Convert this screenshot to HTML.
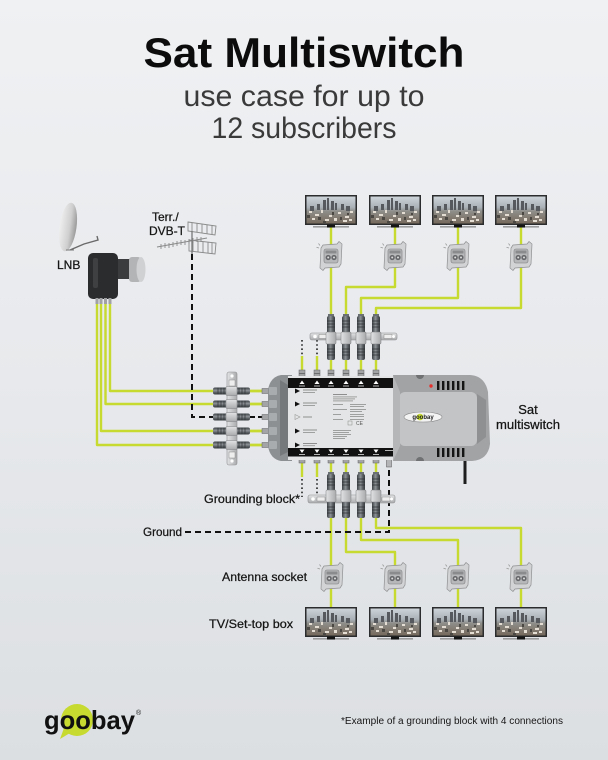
<!DOCTYPE html>
<html><head><meta charset="utf-8"><style>
html,body{margin:0;padding:0;width:608px;height:760px;overflow:hidden;background:#e8eaed}
svg{display:block}
text{font-family:"Liberation Sans",sans-serif}
</style></head><body>
<svg width="608" height="760" viewBox="0 0 608 760" xmlns="http://www.w3.org/2000/svg">
<defs>
<linearGradient id="bg" x1="0" y1="0" x2="0" y2="1">
<stop offset="0" stop-color="#eff1f3"/><stop offset="0.5" stop-color="#e7e9ec"/><stop offset="1" stop-color="#dcdfe2"/></linearGradient>
<linearGradient id="sky" x1="0" y1="0" x2="0" y2="1">
<stop offset="0" stop-color="#cdd4da"/><stop offset="0.4" stop-color="#aab2b8"/><stop offset="0.55" stop-color="#8e8d88"/><stop offset="1" stop-color="#76695c"/></linearGradient>
<linearGradient id="cylV" x1="0" y1="0" x2="1" y2="0">
<stop offset="0" stop-color="#3d4246"/><stop offset="0.45" stop-color="#8e9397"/><stop offset="0.7" stop-color="#5b6064"/><stop offset="1" stop-color="#383c3f"/></linearGradient>
<linearGradient id="cylH" x1="0" y1="0" x2="0" y2="1">
<stop offset="0" stop-color="#3d4246"/><stop offset="0.45" stop-color="#8e9397"/><stop offset="0.7" stop-color="#5b6064"/><stop offset="1" stop-color="#383c3f"/></linearGradient>
<linearGradient id="metal" x1="0" y1="0" x2="0" y2="1">
<stop offset="0" stop-color="#e2e3e4"/><stop offset="1" stop-color="#a9abad"/></linearGradient>
<linearGradient id="metalH" x1="0" y1="0" x2="1" y2="0">
<stop offset="0" stop-color="#e2e3e4"/><stop offset="1" stop-color="#a9abad"/></linearGradient>
<linearGradient id="dish" x1="0" y1="0" x2="1" y2="0">
<stop offset="0" stop-color="#eeeeee"/><stop offset="0.6" stop-color="#cfcfcf"/><stop offset="1" stop-color="#999"/></linearGradient>

<g id="tv">
<rect x="0" y="0" width="52" height="30" fill="#2b2c2d"/>
<rect x="1.5" y="1.5" width="49" height="27" fill="url(#sky)"/>
<g fill="#565a5e">
<rect x="18" y="5" width="3" height="10"/><rect x="22" y="3" width="2" height="12"/><rect x="26" y="6" width="3" height="9"/><rect x="30" y="8" width="2" height="7"/><rect x="12" y="9" width="3" height="6"/><rect x="36" y="9" width="3" height="6"/><rect x="41" y="11" width="4" height="5"/><rect x="5" y="11" width="4" height="5"/></g>
<g fill="#e3ddd3">
<rect x="4" y="16" width="3" height="2"/><rect x="10" y="19" width="4" height="2"/><rect x="16" y="15" width="2" height="3"/><rect x="24" y="20" width="3" height="2"/><rect x="33" y="17" width="3" height="2"/><rect x="40" y="21" width="4" height="2"/><rect x="45" y="16" width="3" height="2"/><rect x="7" y="23" width="3" height="2"/><rect x="20" y="24" width="4" height="2"/><rect x="29" y="23" width="3" height="3"/><rect x="38" y="25" width="4" height="2"/><rect x="44" y="24" width="3" height="2"/></g>
<g fill="#4b4742">
<rect x="2" y="20" width="3" height="3"/><rect x="13" y="22" width="3" height="3"/><rect x="27" y="17" width="2" height="3"/><rect x="35" y="22" width="2" height="3"/><rect x="42" y="18" width="2" height="2"/><rect x="18" y="26" width="3" height="2"/></g>
<rect x="8" y="31" width="36" height="1.6" fill="#9a9c9e"/>
<rect x="22" y="29.5" width="8" height="3" fill="#141414"/>
</g>

<g id="sk">
<path d="M-8 -11 L6 -12 L8 -14.5 L11 -12 L10 8 L8 11 L-6 12 L-8 14.5 L-11 12 L-10 -8 Z" fill="#d2d3d4" stroke="#8e9091" stroke-width="0.7"/>
<rect x="-7" y="-7" width="14" height="14" rx="2" fill="#b7b8b9" stroke="#7b7c7e" stroke-width="0.6"/>
<rect x="-5.5" y="-5.5" width="11" height="3" fill="#8a8b8d"/>
<circle cx="-2.8" cy="1.5" r="2.6" fill="#66676a"/><circle cx="3" cy="1.5" r="2.6" fill="#66676a"/>
<circle cx="-2.8" cy="1.5" r="1" fill="#dcdcdc"/><circle cx="3" cy="1.5" r="1" fill="#dcdcdc"/>
<path d="M-12 -8 l-2.5 -0.8 M-11 -10.5 l-1.5 -2" stroke="#9a9a9a" stroke-width="0.8"/>
</g>

<g id="vc">
<rect x="-3" y="-2" width="6" height="3" fill="#6b7074"/>
<rect x="-4" y="0" width="8" height="44" rx="2" fill="url(#cylV)"/>
<path d="M-4 5h8M-4 8h8M-4 11h8M-4 33h8M-4 36h8M-4 39h8" stroke="#2e3235" stroke-width="0.7"/>
<rect x="-5" y="16" width="10" height="12" rx="1" fill="url(#metalH)" stroke="#7d7f81" stroke-width="0.5"/>
</g>

<g id="hc">
<rect x="0" y="-3.5" width="37" height="7" rx="2" fill="url(#cylH)"/>
<path d="M5 -3.5v7M8 -3.5v7M11 -3.5v7M26 -3.5v7M29 -3.5v7M32 -3.5v7" stroke="#2e3235" stroke-width="0.7"/>
<rect x="13" y="-4.5" width="11" height="9" rx="1" fill="url(#metal)" stroke="#7d7f81" stroke-width="0.5"/>
</g>

<g id="fc">
<rect x="-3" y="0" width="6" height="8" fill="#a2a4a6" stroke="#5f6163" stroke-width="0.5"/>
<rect x="-3" y="3" width="6" height="1" fill="#6b6d6f"/>
</g>
</defs>

<rect x="0" y="0" width="608" height="760" fill="url(#bg)"/>

<!-- Title -->
<text x="304" y="67" text-anchor="middle" font-size="42" font-weight="700" fill="#0c0c0c" textLength="321" lengthAdjust="spacingAndGlyphs">Sat Multiswitch</text>
<text x="304" y="106" text-anchor="middle" font-size="30" fill="#3a3a3a" textLength="241" lengthAdjust="spacingAndGlyphs">use case for up to</text>
<text x="304" y="138" text-anchor="middle" font-size="30" fill="#3a3a3a" textLength="185" lengthAdjust="spacingAndGlyphs">12 subscribers</text>

<!-- cables -->
<g fill="none" stroke="#c6da2f" stroke-width="2.4" stroke-linejoin="round">
<path d="M331 227V248M395 227V248M458 227V248M521 227V248"/>
<path d="M331 264V318M395 264V287H346V318M458 264V298H361V318M521 264V308H376V318"/>
<path d="M302 356V372M317 356V372M331 358V372M346 358V372M361 358V372M376 358V372"/>
<path d="M302 462V477M317 462V477M331 462V476M346 462V476M361 462V476M376 462V476"/>
<path d="M331 516V570M346 516V552H395V570M361 516V540H458V570M376 516V528H521V570"/>
<path d="M331 585V609M395 585V609M458 585V609M521 585V609"/>
<path d="M110 303V391H263M105.5 303V404H263M101 303V431H263M97 303V445H263"/>
</g>

<!-- dashed lines -->
<g fill="none" stroke="#111" stroke-width="2" stroke-dasharray="6 4">
<path d="M192 254V417H263"/>
<path d="M389 470V532H185"/>
</g>
<g fill="none" stroke="#222" stroke-width="1.6" stroke-dasharray="1.6 2.6">
<path d="M302 340V356M317 340V356M302 479V497M317 479V497"/>
</g>

<!-- top TVs and sockets -->
<use href="#tv" x="305" y="195"/><use href="#tv" x="369" y="195"/><use href="#tv" x="432" y="195"/><use href="#tv" x="495" y="195"/>
<use href="#sk" x="331" y="256"/><use href="#sk" x="395" y="256"/><use href="#sk" x="458" y="256"/><use href="#sk" x="521" y="256"/>

<!-- bottom sockets and TVs -->
<use href="#sk" x="332" y="577"/><use href="#sk" x="395" y="577"/><use href="#sk" x="458" y="577"/><use href="#sk" x="521" y="577"/>
<use href="#tv" x="305" y="607"/><use href="#tv" x="369" y="607"/><use href="#tv" x="432" y="607"/><use href="#tv" x="495" y="607"/>

<!-- top grounding block -->
<rect x="310" y="333" width="87" height="7" rx="2" fill="url(#metal)" stroke="#8c8e90" stroke-width="0.6"/>
<circle cx="315" cy="336.5" r="1.8" fill="#fff"/><rect x="319" y="334.5" width="8" height="4" fill="#eee" stroke="#777" stroke-width="0.4"/>
<rect x="384" y="334.5" width="8" height="4" fill="#eee" stroke="#777" stroke-width="0.4"/><circle cx="393.5" cy="336.5" r="1.5" fill="#fff"/>
<use href="#vc" x="331" y="316"/><use href="#vc" x="346" y="316"/><use href="#vc" x="361" y="316"/><use href="#vc" x="376" y="316"/>

<!-- bottom grounding block -->
<rect x="308" y="495" width="87" height="8" rx="2" fill="url(#metal)" stroke="#8c8e90" stroke-width="0.6"/>
<circle cx="313" cy="499" r="1.8" fill="#fff"/><rect x="317" y="497" width="8" height="4" fill="#eee" stroke="#777" stroke-width="0.4"/>
<rect x="382" y="497" width="8" height="4" fill="#eee" stroke="#777" stroke-width="0.4"/><circle cx="391.5" cy="499" r="1.5" fill="#fff"/>
<use href="#vc" x="331" y="474"/><use href="#vc" x="346" y="474"/><use href="#vc" x="361" y="474"/><use href="#vc" x="376" y="474"/>

<!-- input block -->
<rect x="227" y="372" width="10" height="93" rx="2" fill="url(#metalH)" stroke="#8c8e90" stroke-width="0.6"/>
<circle cx="232" cy="376" r="1.6" fill="#fff"/><circle cx="232" cy="461" r="1.6" fill="#fff"/>
<rect x="229" y="380" width="6" height="6" fill="#eee" stroke="#777" stroke-width="0.4"/>
<rect x="229" y="452" width="6" height="6" fill="#eee" stroke="#777" stroke-width="0.4"/>
<use href="#hc" x="213" y="391"/><use href="#hc" x="213" y="404"/><use href="#hc" x="213" y="417"/><use href="#hc" x="213" y="431"/><use href="#hc" x="213" y="445"/>
<g fill="none" stroke="#c6da2f" stroke-width="2.4"><path d="M250 391H264M250 404H264M250 431H264M250 445H264"/></g>
<path d="M250 417H264" stroke="#111" stroke-width="2" stroke-dasharray="5 3"/>

<!-- multiswitch -->
<g>
<use href="#fc" x="302" y="370"/><use href="#fc" x="317" y="370"/><use href="#fc" x="331" y="370"/><use href="#fc" x="346" y="370"/><use href="#fc" x="361" y="370"/><use href="#fc" x="376" y="370"/>
<use href="#fc" x="302" y="455"/><use href="#fc" x="317" y="455"/><use href="#fc" x="331" y="455"/><use href="#fc" x="346" y="455"/><use href="#fc" x="361" y="455"/><use href="#fc" x="376" y="455"/>
<rect x="386.5" y="455" width="5" height="12" fill="#b3b5b7" stroke="#555" stroke-width="0.5"/>
<path d="M465 458V484" stroke="#1e1e1e" stroke-width="3" fill="none"/>
<g fill="#a2a4a6" stroke="#5f6163" stroke-width="0.5">
<rect x="262" y="388.5" width="7" height="5"/><rect x="262" y="401.5" width="7" height="5"/><rect x="262" y="414.5" width="7" height="5"/><rect x="262" y="428.5" width="7" height="5"/><rect x="262" y="442.5" width="7" height="5"/></g>
<path d="M292 375 L281 375 Q270 377 268 390 L268 446 Q270 459 281 461 L292 461 Z" fill="#8d9093"/>
<g fill="#a9acaf"><rect x="269" y="387" width="8" height="8" rx="1"/><rect x="269" y="400" width="8" height="8" rx="1"/><rect x="269" y="413" width="8" height="8" rx="1"/><rect x="269" y="427" width="8" height="8" rx="1"/><rect x="269" y="441" width="8" height="8" rx="1"/></g>
<path d="M280 380 L288 385 L288 452 L280 456 Z" fill="#76797c"/>
<rect x="288" y="376" width="108" height="84" fill="#e4e5e6"/>
<rect x="288" y="378" width="107" height="10" fill="#111"/>
<rect x="288" y="448" width="107" height="8.5" fill="#111"/>
<g fill="#fff">
<path d="M299.5 384H304.5L302 380.5Z"/><path d="M314.5 384H319.5L317 380.5Z"/><path d="M328.5 384H333.5L331 380.5Z"/><path d="M343.5 384H348.5L346 380.5Z"/><path d="M358.5 384H363.5L361 380.5Z"/><path d="M373.5 384H378.5L376 380.5Z"/>
<path d="M299.5 449.5H304.5L302 453Z"/><path d="M314.5 449.5H319.5L317 453Z"/><path d="M328.5 449.5H333.5L331 453Z"/><path d="M343.5 449.5H348.5L346 453Z"/><path d="M358.5 449.5H363.5L361 453Z"/><path d="M373.5 449.5H378.5L376 453Z"/>
</g>
<g fill="#b5b5b5">
<rect x="299" y="385.5" width="6" height="1"/><rect x="314" y="385.5" width="6" height="1"/><rect x="328" y="385.5" width="6" height="1"/><rect x="343" y="385.5" width="6" height="1"/><rect x="358" y="385.5" width="6" height="1"/><rect x="373" y="385.5" width="6" height="1"/>
<rect x="299" y="454" width="6" height="1"/><rect x="314" y="454" width="6" height="1"/><rect x="328" y="454" width="6" height="1"/><rect x="343" y="454" width="6" height="1"/><rect x="358" y="454" width="6" height="1"/><rect x="373" y="454" width="6" height="1"/><rect x="385" y="450" width="8" height="1"/>
</g>
<g fill="#111">
<path d="M295 388.5L300 391L295 393.5Z"/><path d="M295 401.5L300 404L295 406.5Z"/><path d="M295 428.5L300 431L295 433.5Z"/><path d="M295 442.5L300 445L295 447.5Z"/>
</g>
<path d="M295 414.5L300 417L295 419.5Z" fill="none" stroke="#999" stroke-width="0.6"/>
<g fill="#8e8e8e">
<rect x="303" y="389.5" width="14" height="1"/><rect x="303" y="392" width="12" height="0.8"/>
<rect x="303" y="402.5" width="14" height="1"/><rect x="303" y="405" width="12" height="0.8"/>
<rect x="303" y="416.5" width="9" height="1"/>
<rect x="303" y="429.5" width="14" height="1"/><rect x="303" y="432" width="12" height="0.8"/>
<rect x="303" y="443" width="14" height="1"/><rect x="303" y="445.3" width="12" height="0.8"/>
<rect x="333" y="394" width="14" height="1"/><rect x="333" y="396.5" width="24" height="0.8"/><rect x="333" y="398.5" width="22" height="0.8"/><rect x="333" y="400.5" width="20" height="0.8"/>
<rect x="333" y="404" width="10" height="0.8"/><rect x="350" y="404" width="16" height="0.8"/><rect x="350" y="406" width="14" height="0.8"/>
<rect x="333" y="409" width="14" height="0.8"/><rect x="350" y="409" width="16" height="0.8"/><rect x="350" y="411" width="12" height="0.8"/>
<rect x="333" y="414" width="8" height="0.8"/><rect x="350" y="414" width="14" height="0.8"/><rect x="350" y="416" width="14" height="0.8"/>
<rect x="333" y="419" width="10" height="0.8"/><rect x="350" y="419" width="14" height="0.8"/>
<rect x="333" y="430" width="18" height="0.8"/><rect x="333" y="432" width="16" height="0.8"/><rect x="333" y="434" width="18" height="0.8"/><rect x="333" y="436" width="14" height="0.8"/><rect x="333" y="438" width="12" height="0.8"/>
</g>
<rect x="348" y="421" width="4" height="4" fill="none" stroke="#888" stroke-width="0.5"/>
<text x="356" y="425" font-size="5" fill="#555">CE</text>
<path d="M393 375 L470 375 Q485 376 488 392 L490 444 Q488 460 472 461 L393 461 Z" fill="#a1a3a5"/>
<rect x="399" y="392" width="78" height="54" rx="6" fill="#c2c4c6"/>
<path d="M477 394 L486 400 L486 437 L477 444 Z" fill="#8e9092"/>
<path d="M393 375 L400 392 L400 446 L393 461 Z" fill="#b4b6b8"/>
<g fill="#151515">
<rect x="437" y="381" width="2.4" height="9"/><rect x="442" y="381" width="2.4" height="9"/><rect x="447" y="381" width="2.4" height="9"/><rect x="452" y="381" width="2.4" height="9"/><rect x="457" y="381" width="2.4" height="9"/><rect x="462" y="381" width="2.4" height="9"/>
<rect x="437" y="448" width="2.4" height="9"/><rect x="442" y="448" width="2.4" height="9"/><rect x="447" y="448" width="2.4" height="9"/><rect x="452" y="448" width="2.4" height="9"/><rect x="457" y="448" width="2.4" height="9"/><rect x="462" y="448" width="2.4" height="9"/>
</g>
<path d="M416 375 A4 4 0 0 0 424 375 Z" fill="#6f7173"/>
<path d="M416 461 A4 4 0 0 1 424 461 Z" fill="#6f7173"/>
<circle cx="431" cy="386" r="1.7" fill="#e6302b"/>
<ellipse cx="423" cy="417" rx="19" ry="5" fill="#f3f3f3" stroke="#888" stroke-width="0.6"/>
<circle cx="420" cy="417" r="3.3" fill="#c6da2f"/>
<text x="423" y="419" text-anchor="middle" font-size="6" font-weight="700" fill="#222">goobay</text>
</g>

<!-- LNB -->
<ellipse cx="68" cy="227" rx="8.5" ry="24.5" transform="rotate(8 68 227)" fill="url(#dish)"/>
<path d="M70 250 L84 244 L98 240 L97 236" fill="none" stroke="#6a6a6a" stroke-width="1.4"/>
<path d="M66 250 L74 250" stroke="#777" stroke-width="1"/>
<rect x="110" y="259" width="24" height="20" fill="#3b3c3e"/>
<rect x="88" y="253" width="30" height="46" rx="5" fill="#2b2c2e"/>
<rect x="93" y="258" width="5" height="30" rx="2" fill="#3f4042"/>
<rect x="129" y="257" width="12" height="25" rx="3" fill="#b3b4b5"/>
<ellipse cx="141" cy="269.5" rx="4.5" ry="12.5" fill="#d0d1d2"/>
<g fill="#a0a2a4"><rect x="95.5" y="298" width="3" height="6"/><rect x="99.5" y="298" width="3" height="6"/><rect x="104" y="298" width="3" height="6"/><rect x="108.5" y="298" width="3" height="6"/></g>

<!-- Antenna -->
<g stroke="#8a8a8a" stroke-width="0.9" fill="none">
<path d="M157 247 L207 238"/>
<path d="M161 244v5M165 243v5M169 243v5M173 242v5M177 241v5M181 240v5M185 240v5M189 239v5M193 238v5M197 237v5M201 237v5"/>
<path d="M188 222 L216 226 L215 235 L188 231 Z"/>
<path d="M192 222.5V231.5M197 223V232M202 224V233M207 224.5V233.5M212 225V234.5"/>
<path d="M189 240 L216 243 L215 254 L189 251 Z"/>
<path d="M193 240.5V251.5M198 241V252M203 241.5V252.5M208 242V253M212 242.5V253.5"/>
<path d="M192 231V254" stroke="#777" stroke-width="1.3"/>
</g>

<!-- labels -->
<g font-size="12" fill="#151515" stroke="#151515" stroke-width="0.25">
<text x="57" y="269">LNB</text>
<text x="152" y="221">Terr./</text>
<text x="149" y="235">DVB-T</text>
<text x="528" y="414" text-anchor="middle" font-size="13">Sat</text>
<text x="528" y="429" text-anchor="middle" font-size="13" textLength="64" lengthAdjust="spacingAndGlyphs">multiswitch</text>
<text x="204" y="503" textLength="96" lengthAdjust="spacingAndGlyphs">Grounding block*</text>
<text x="143" y="536" textLength="39" lengthAdjust="spacingAndGlyphs">Ground</text>
<text x="222" y="581" textLength="85" lengthAdjust="spacingAndGlyphs">Antenna socket</text>
<text x="209" y="628" textLength="84" lengthAdjust="spacingAndGlyphs">TV/Set-top box</text>
</g>

<!-- footer -->
<circle cx="77" cy="720" r="16" fill="#c6da2f"/>
<path d="M64 728 L60 739 L70 733 Z" fill="#c6da2f"/>
<text x="44" y="729" font-size="26" font-weight="700" fill="#111" textLength="91" lengthAdjust="spacingAndGlyphs">goobay</text>
<text x="136" y="715" font-size="7" fill="#111">®</text>
<text x="341" y="724" font-size="10" fill="#151515" textLength="222" lengthAdjust="spacingAndGlyphs">*Example of a grounding block with 4 connections</text>
</svg>
</body></html>
